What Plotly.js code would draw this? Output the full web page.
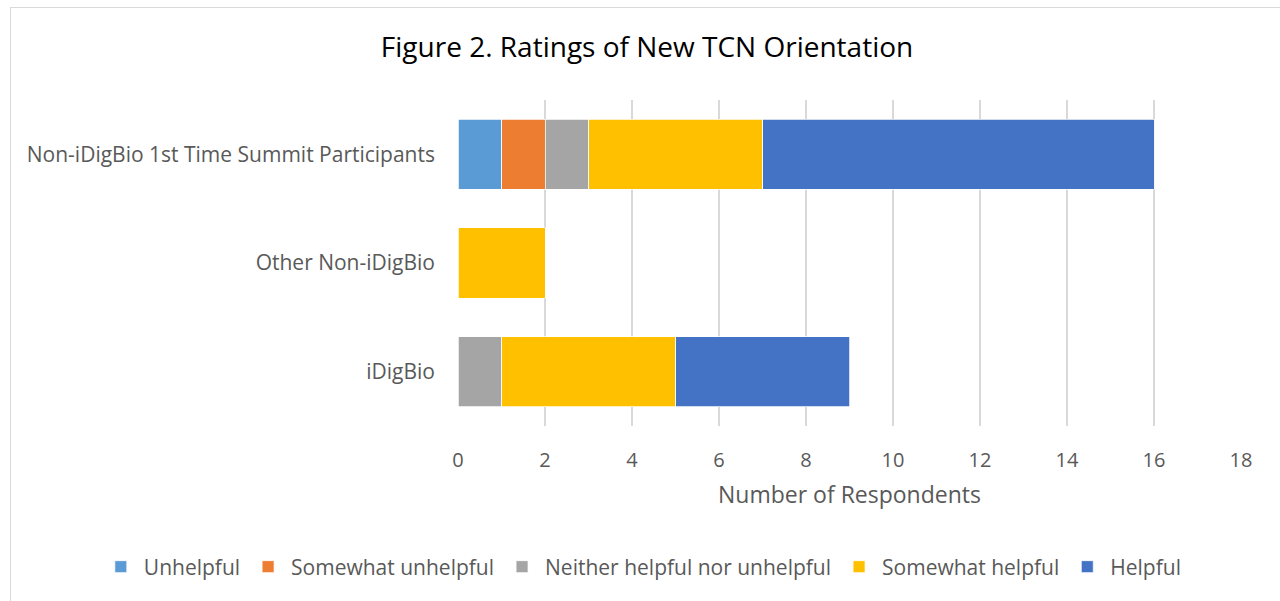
<!DOCTYPE html>
<html>
<head>
<meta charset="utf-8">
<script src="https://cdn.plot.ly/plotly-3.0.1.min.js"></script>
<style>
  body { margin: 0; background: #fff; }
  #frame { position: absolute; left: 10px; top: 7px; width: 1290px; height: 620px; border: 1px solid #d9d9d9; }
  #chart { position: absolute; left: 0; top: 0; width: 1280px; height: 601px; }
</style>
</head>
<body>
<div id="frame"></div>
<div id="chart"></div>
<script>
// categories bottom to top (plotly draws first category at the bottom)
const categories = ['iDigBio', 'Other Non-iDigBio', 'Non-iDigBio 1st Time Summit Participants']

const unhelpful = [0, 0, 1]
const somewhatUnhelpful = [0, 0, 1]
const neither = [1, 0, 1]
const somewhatHelpful = [4, 2, 4]
const helpful = [4, 0, 9]

const seriesNames = ['Unhelpful', 'Somewhat unhelpful', 'Neither helpful nor unhelpful', 'Somewhat helpful', 'Helpful']
const seriesValues = [unhelpful, somewhatUnhelpful, neither, somewhatHelpful, helpful]
const seriesColors = ['#5B9BD5', '#ED7D31', '#A5A5A5', '#FFC000', '#4472C4']

const FONT = 'Open Sans, sans-serif'

const data = seriesNames.map((name, i) => ({
    type: 'bar',
    orientation: 'h',
    name: name,
    y: categories,
    x: seriesValues[i],
    marker: {color: seriesColors[i], line: {color: '#ffffff', width: 0.75}},
    hoverinfo: 'x+name'
}))

const layout = {
    width: 1280,
    height: 601,
    barmode: 'stack',
    bargap: 0.355,
    paper_bgcolor: 'rgba(0,0,0,0)',
    plot_bgcolor: 'rgba(0,0,0,0)',
    font: {family: FONT, size: 20, color: '#595959'},
    title: {
        text: 'Figure 2. Ratings of New TCN Orientation',
        font: {family: FONT, size: 28, color: '#000000'},
        x: 0.5055, xref: 'container', xanchor: 'center',
        y: 0.922, yref: 'container', yanchor: 'middle'
    },
    margin: {l: 458, r: 39, t: 100, b: 175, pad: 0, autoexpand: false},
    xaxis: {
        range: [0, 18],
        dtick: 2,
        showgrid: true,
        gridcolor: '#d9d9d9',
        gridwidth: 1.5,
        zeroline: false,
        showline: false,
        ticks: '',
        ticklabelstandoff: 20,
        tickfont: {size: 20, color: '#595959'},
        title: {text: 'Number of Respondents', font: {size: 23, color: '#595959'}, standoff: 14}
    },
    yaxis: {
        type: 'category',
        showgrid: false,
        zeroline: false,
        showline: false,
        ticks: '',
        ticklabelstandoff: 22,
        tickfont: {size: 21, color: '#595959'}
    },
    showlegend: true,
    legend: {
        orientation: 'h',
        traceorder: 'normal',
        x: -0.46, xanchor: 'left',
        y: -0.4325, yanchor: 'middle',
        font: {size: 21, color: '#595959'},
        itemwidth: 36
    }
}

Plotly.newPlot('chart', data, layout, {displayModeBar: false, staticPlot: true})
</script>
</body>
</html>
